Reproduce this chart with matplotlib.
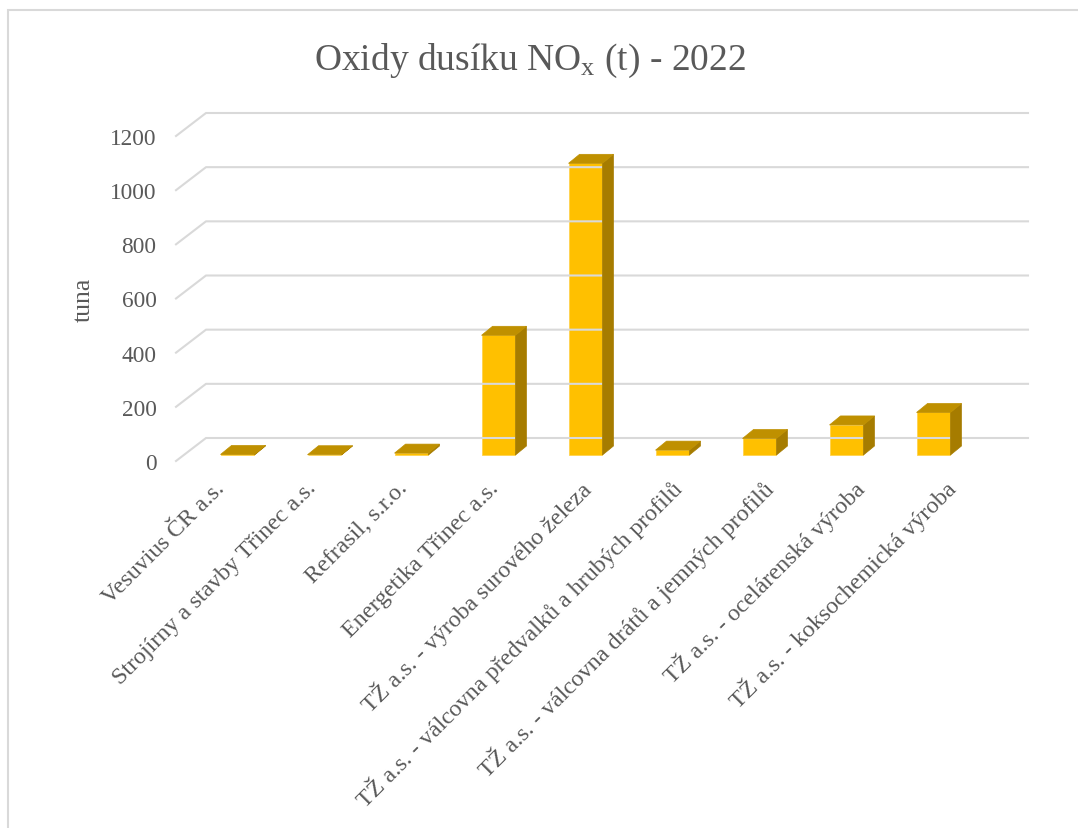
import matplotlib
matplotlib.use("Agg")
import matplotlib.pyplot as plt
from matplotlib.patches import Polygon, Rectangle
from matplotlib.lines import Line2D
from matplotlib.transforms import IdentityTransform, offset_copy

plt.rcParams['font.family'] = ['Liberation Serif', 'DejaVu Serif']
plt.rcParams['mathtext.fontset'] = 'custom'
plt.rcParams['mathtext.rm'] = 'Liberation Serif'
plt.rcParams['mathtext.it'] = 'Liberation Serif'

categories = [
    "Vesuvius ČR a.s.",
    "Strojírny a stavby Třinec a.s.",
    "Refrasil, s.r.o.",
    "Energetika Třinec a.s.",
    "TŽ a.s. - výroba surového železa",
    "TŽ a.s. - válcovna předvalků a hrubých profilů",
    "TŽ a.s. - válcovna drátů a jemných profilů",
    "TŽ a.s. - ocelárenská výroba",
    "TŽ a.s. - koksochemická výroba",
]
values = [2, 1, 7, 442, 1077, 18, 61, 111, 157]
y_ticks = [0, 200, 400, 600, 800, 1000, 1200]
title = "Oxidy dusíku NO$_{\\mathrm{x}}$ (t) - 2022"
y_label = "tuna"

W, H = 1078, 829
DPI = 100
TXT = "#595959"
GRID = "#D9D9D9"
FRONT = "#FFC000"
TOP = "#BF9000"
SIDE = "#A67C00"

fig = plt.figure(figsize=(W / DPI, H / DPI), dpi=DPI)
fig.patch.set_facecolor("white")

def px_rect(left, top, width, height):
    return [left / W, (H - top - height) / H, width / W, height / H]

# front plane of the floor / value axis
ax = fig.add_axes(px_rect(176, 137, 822, 325))
ax.set_xlim(-0.5, len(categories) - 0.5)
ax.set_ylim(0, 1200)
ax.patch.set_visible(False)
for s in ax.spines.values():
    s.set_visible(False)
ax.set_yticks(y_ticks)
ax.set_yticklabels([str(t) for t in y_ticks], fontsize=16.8, color=TXT)
ax.tick_params(axis='y', length=0, pad=14)
ax.set_xticks(range(len(categories)))
ax.set_xticklabels(categories, rotation=45, ha='right', va='center',
                   rotation_mode='anchor', fontsize=17.3, color=TXT)
ax.tick_params(axis='x', length=0, pad=17)
ax.set_ylabel(y_label, fontsize=18.5, color=TXT)
ax.yaxis.set_label_coords(-0.0985, 0.5)

# bar plane (slightly compressed, as in the perspective view)
axb = fig.add_axes(px_rect(186, 137, 783, 325))
axb.set_xlim(-0.5, len(categories) - 0.5)
axb.set_ylim(0, 1200)
axb.axis('off')

WALL_DX, WALL_DY = 30, 23
BASE_DX, BASE_DY = 8, 6
BAR_DX, BAR_DY = 11, 9
BAR_W = 0.39

ident = IdentityTransform()

# back wall gridlines + side wall diagonals
for t in y_ticks:
    x0, y0 = ax.transData.transform((-0.5, t))
    x1, y1 = ax.transData.transform((len(categories) - 0.5, t))
    fig.add_artist(Line2D([x0, x0 + WALL_DX, x1 + WALL_DX], [y0, y0 + WALL_DY, y1 + WALL_DY],
                          transform=ident, color=GRID, lw=1.5, zorder=1))

# bars
for i, v in enumerate(values):
    fl = axb.transData.transform((i - BAR_W / 2, 0))
    fr = axb.transData.transform((i + BAR_W / 2, 0))
    tl = axb.transData.transform((i - BAR_W / 2, v))
    tr = axb.transData.transform((i + BAR_W / 2, v))
    off = [BASE_DX, BASE_DY]
    fl, fr, tl, tr = fl + off, fr + off, tl + off, tr + off
    d = [BAR_DX, BAR_DY]
    side = Polygon([fr, tr, tr + d, fr + d], closed=True, transform=ident,
                   facecolor=SIDE, edgecolor=SIDE, lw=0.5, zorder=3)
    top = Polygon([tl, tr, tr + d, tl + d], closed=True, transform=ident,
                  facecolor=TOP, edgecolor=TOP, lw=0.5, zorder=3)
    fig.add_artist(side)
    fig.add_artist(top)
    axb.bar(i, v, width=BAR_W, color=FRONT, edgecolor="#FFD24D", lw=0.6,
            transform=offset_copy(axb.transData, fig=fig, x=BASE_DX, y=BASE_DY, units='dots'),
            zorder=4)

# title
fig.text(530 / W, 1 - 61 / H, title, ha='center', va='center', fontsize=27, color=TXT)

# chart border (cut by image edges)
fig.add_artist(Rectangle((8 / W, -0.1), 1.2, (H - 11) / H + 0.1, transform=fig.transFigure,
                         fill=False, edgecolor=GRID, lw=1.5))

fig.savefig("out.png", dpi=DPI, facecolor="white")
